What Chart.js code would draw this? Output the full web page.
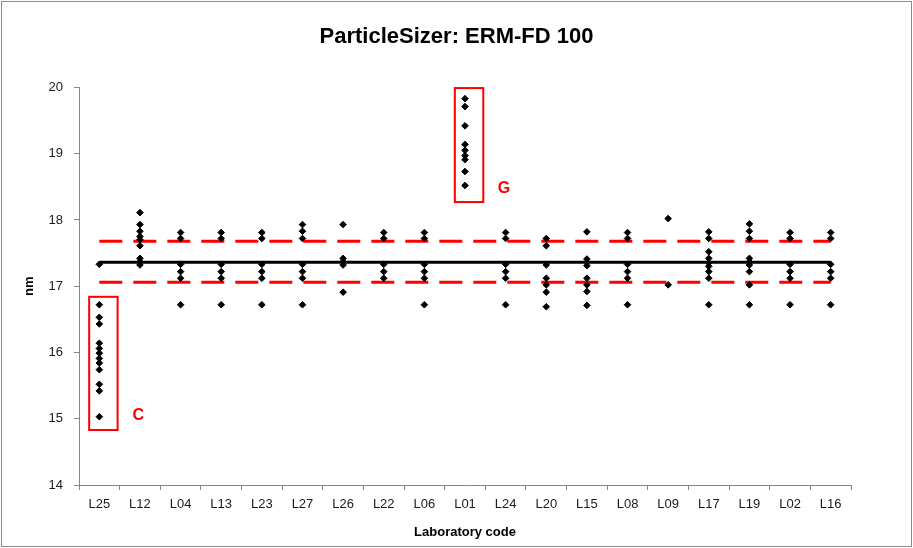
<!DOCTYPE html>
<html>
<head>
<meta charset="utf-8">
<script src="https://cdn.jsdelivr.net/npm/chart.js@4"></script>
<style>
  html, body { margin: 0; padding: 0; background: #ffffff; }
  #wrap { width: 913px; height: 548px; }
</style>
</head>
<body>
<div id="wrap"><canvas id="c" width="913" height="548"></canvas></div>
<script>
// ---- Data ----
const labs = ['L25','L12','L04','L13','L23','L27','L26','L22','L06','L01','L24','L20','L15','L08','L09','L17','L19','L02','L16'];

const L25 = [17.33, 16.72, 16.53, 16.43, 16.14, 16.06, 15.99, 15.91, 15.84, 15.74, 15.52, 15.42, 15.03];
const L12 = [18.11, 17.93, 17.83, 17.75, 17.70, 17.61, 17.42, 17.37, 17.32];
const L04 = [17.81, 17.72, 17.33, 17.22, 17.12, 16.72];
const L13 = [17.81, 17.72, 17.33, 17.22, 17.12, 16.72];
const L23 = [17.81, 17.72, 17.33, 17.22, 17.12, 16.72];
const L27 = [17.93, 17.83, 17.72, 17.33, 17.22, 17.12, 16.72];
const L26 = [17.93, 17.42, 17.37, 17.32, 16.91];
const L22 = [17.81, 17.72, 17.33, 17.22, 17.12];
const L06 = [17.81, 17.72, 17.33, 17.22, 17.12, 16.72];
const L01 = [19.83, 19.71, 19.42, 19.14, 19.05, 18.97, 18.91, 18.73, 18.52];
const L24 = [17.81, 17.72, 17.33, 17.22, 17.12, 16.72];
const L20 = [17.72, 17.61, 17.32, 17.12, 17.02, 16.91, 16.69];
const L15 = [17.82, 17.41, 17.36, 17.31, 17.12, 17.02, 16.92, 16.71];
const L08 = [17.81, 17.72, 17.33, 17.22, 17.12, 16.72];
const L09 = [18.02, 17.02];
const L17 = [17.82, 17.72, 17.52, 17.42, 17.35, 17.30, 17.22, 17.12, 16.72];
const L19 = [17.94, 17.83, 17.72, 17.42, 17.37, 17.32, 17.22, 17.02, 16.72];
const L02 = [17.81, 17.72, 17.33, 17.22, 17.12, 16.72];
const L16 = [17.81, 17.72, 17.33, 17.22, 17.12, 16.72];

const labValues = [L25, L12, L04, L13, L23, L27, L26, L22, L06, L01, L24, L20, L15, L08, L09, L17, L19, L02, L16];

const meanValue = 17.36;
const upperLimit = 17.68;
const lowerLimit = 17.06;
const yTicks = [14, 15, 16, 17, 18, 19, 20];

// Outlier groups (lab, value range covered by the box, label)
const outlierLab = ['L25', 'L01'];
const outlierTop = [16.84, 19.99];
const outlierBottom = [14.83, 18.27];
const outlierMark = ['C', 'G'];
const outlierMarkValue = [15.05, 18.48];

// ---- Build points ----
const points = [];
labs.forEach((lab, i) => {
  labValues[i].forEach(v => points.push({ x: lab, y: v }));
});
const first = labs[0], last = labs[labs.length - 1];

const FONT = "'Liberation Sans', Arial, sans-serif";
const AXIS_GREY = '#868686';

const decorPlugin = {
  id: 'decor',
  beforeDraw(chart) {
    const ctx = chart.ctx;
    ctx.save();
    ctx.fillStyle = '#ffffff';
    ctx.fillRect(0, 0, chart.width, chart.height);
    ctx.restore();
  },
  afterDraw(chart) {
    const ctx = chart.ctx;
    const xs = chart.scales.x, ys = chart.scales.y;
    ctx.save();
    // outlier boxes and marks
    ctx.strokeStyle = '#ff0000';
    ctx.lineWidth = 2;
    outlierLab.forEach((lab, k) => {
      const idx = labs.indexOf(lab);
      const band = xs.getPixelForValue(1) - xs.getPixelForValue(0);
      const cx = xs.getPixelForValue(idx);
      const x0 = cx - 0.25 * band, x1 = cx + 0.45 * band;
      const y0 = ys.getPixelForValue(outlierTop[k]);
      const y1 = ys.getPixelForValue(outlierBottom[k]);
      ctx.strokeRect(x0, y0, x1 - x0, y1 - y0);
      ctx.fillStyle = '#ff0000';
      ctx.font = 'bold 16px ' + FONT;
      ctx.textAlign = 'center';
      ctx.textBaseline = 'middle';
      ctx.fillText(outlierMark[k], cx + 0.96 * band, ys.getPixelForValue(outlierMarkValue[k]));
    });
    // outer chart border
    ctx.strokeStyle = '#8c8c8c';
    ctx.lineWidth = 1;
    ctx.strokeRect(1.5, 1.5, chart.width - 3, chart.height - 3);
    ctx.restore();
  }
};

new Chart(document.getElementById('c'), {
  type: 'line',
  data: {
    labels: labs,
    datasets: [
      {
        label: 'Results',
        data: points,
        showLine: false,
        pointStyle: 'rectRot',
        pointRadius: 3.3,
        pointBorderWidth: 1,
        pointBackgroundColor: '#000000',
        pointBorderColor: '#000000',
        order: 0
      },
      {
        label: 'Mean',
        data: [{ x: first, y: meanValue }, { x: last, y: meanValue }],
        borderColor: '#000000',
        borderWidth: 3,
        pointRadius: 0,
        order: 1
      },
      {
        label: 'Upper',
        data: [{ x: first, y: upperLimit }, { x: last, y: upperLimit }],
        borderColor: '#ff0000',
        borderWidth: 3,
        borderDash: [23, 11],
        pointRadius: 0,
        order: 2
      },
      {
        label: 'Lower',
        data: [{ x: first, y: lowerLimit }, { x: last, y: lowerLimit }],
        borderColor: '#ff0000',
        borderWidth: 3,
        borderDash: [23, 11],
        pointRadius: 0,
        order: 2
      }
    ]
  },
  options: {
    responsive: false,
    animation: false,
    devicePixelRatio: 1,
    layout: { padding: { left: 0, right: 0, top: 0, bottom: 0 } },
    plugins: {
      legend: { display: false },
      tooltip: { enabled: false },
      title: {
        display: true,
        text: 'ParticleSizer: ERM-FD 100',
        color: '#000000',
        font: { family: FONT, size: 22, weight: 'bold' },
        padding: { top: 24, bottom: 37 }
      }
    },
    scales: {
      x: {
        type: 'category',
        offset: true,
        grid: {
          display: true,
          offset: true,
          drawOnChartArea: false,
          drawTicks: true,
          tickLength: 5,
          color: AXIS_GREY
        },
        border: { display: true, color: AXIS_GREY, width: 1 },
        ticks: {
          color: '#1a1a1a',
          font: { family: FONT, size: 13 },
          padding: 7,
          maxRotation: 0,
          autoSkip: false
        },
        title: {
          display: true,
          text: 'Laboratory code',
          color: '#000000',
          font: { family: FONT, size: 13, weight: 'bold' },
          padding: { top: 0, bottom: 8 }
        },
        afterFit(scale) { scale.height = 63; }
      },
      y: {
        position: 'left',
        min: 14,
        max: 20,
        afterBuildTicks(scale) { scale.ticks = yTicks.map(v => ({ value: v })); },
        grid: {
          display: true,
          drawOnChartArea: false,
          drawTicks: true,
          tickLength: 5,
          color: AXIS_GREY
        },
        border: { display: true, color: AXIS_GREY, width: 1 },
        ticks: {
          color: '#1a1a1a',
          font: { family: FONT, size: 13 },
          padding: 11
        },
        title: {
          display: true,
          text: 'nm',
          color: '#000000',
          font: { family: FONT, size: 13, weight: 'bold' },
          padding: { top: 22, bottom: 0 }
        },
        afterFit(scale) { scale.width = 79; }
      },
      yRight: {
        position: 'right',
        display: true,
        grid: { display: false },
        border: { display: false },
        ticks: { display: false },
        afterFit(scale) { scale.width = 62; }
      }
    }
  },
  plugins: [decorPlugin]
});
</script>
</body>
</html>
